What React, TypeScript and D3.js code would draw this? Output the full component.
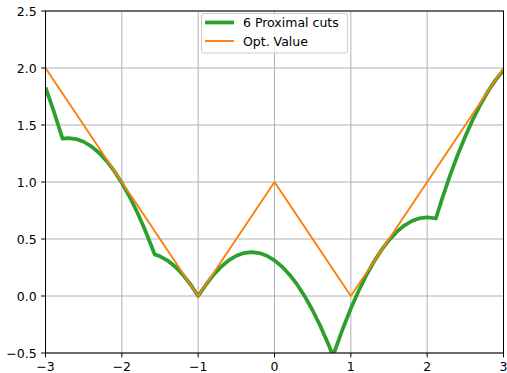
import React from "react";
import * as d3 from "d3";

// Opt. value (piecewise linear)
const optX = [-3, -1, 0, 1, 3];
const optY = [2, 0, 1, 0, 2];

// 6 Proximal cuts
const cutX = [
  -3, -2.9, -2.777, -2.7, -2.6, -2.5, -2.4, -2.3, -2.2, -2.1, -2.0, -1.9, -1.8, -1.7, -1.6, -1.571,
  -1.5, -1.4, -1.3, -1.2, -1.1, -1.0,
  -0.9, -0.8, -0.7, -0.6, -0.5, -0.4, -0.3, -0.2, -0.1, 0, 0.1, 0.2, 0.3, 0.4, 0.5, 0.6, 0.7, 0.767,
  0.8, 0.9, 1.0, 1.1, 1.2, 1.3, 1.4, 1.5, 1.6, 1.7, 1.8, 1.9, 2.0, 2.1, 2.114,
  2.2, 2.3, 2.4, 2.5, 2.6, 2.7, 2.8, 2.9, 3.0,
];
const cutY = [
  1.83, 1.638, 1.38, 1.385, 1.377, 1.353, 1.313, 1.257, 1.185, 1.097, 0.993, 0.873, 0.737, 0.585, 0.417, 0.365,
  0.348, 0.311, 0.257, 0.187, 0.101, 0.0,
  0.097, 0.185, 0.257, 0.313, 0.353, 0.377, 0.385, 0.377, 0.353, 0.313, 0.257, 0.185, 0.097, -0.007, -0.127, -0.263, -0.415, -0.523,
  -0.462, -0.278, -0.11, 0.042, 0.178, 0.298, 0.402, 0.49, 0.562, 0.618, 0.658, 0.682, 0.69, 0.682, 0.68,
  0.862, 1.058, 1.238, 1.402, 1.55, 1.682, 1.798, 1.898, 1.982,
];

const xTicks = [-3, -2, -1, 0, 1, 2, 3];
const yTicks = [-0.5, 0, 0.5, 1, 1.5, 2, 2.5];
const legendLabels = ["6 Proximal cuts", "Opt. Value"];

const W = 507;
const H = 373;
const left = 45.5;
const right = 503.5;
const top = 11;
const bottom = 353;
const FONT = "DejaVu Sans, sans-serif";
const FS = 12.5;

const fmtX = (v: number) => (v < 0 ? "\u2212" + Math.abs(v) : String(v));
const fmtY = (v: number) => (v < 0 ? "\u2212" + Math.abs(v).toFixed(1) : v.toFixed(1));

export default function App() {
  const x = d3.scaleLinear().domain([-3, 3]).range([left, right]);
  const y = d3.scaleLinear().domain([-0.5, 2.5]).range([bottom, top]);
  const line = d3
    .line<[number, number]>()
    .x((d) => x(d[0]))
    .y((d) => y(d[1]));
  const optPts = optX.map((v, i) => [v, optY[i]] as [number, number]);
  const cutPts = cutX.map((v, i) => [v, cutY[i]] as [number, number]);

  const legX = 201.5;
  const legY = 13.5;
  const legW = 146;
  const legH = 39.5;

  return (
    <svg
      width={W}
      height={H}
      style={{ position: "absolute", left: 0, top: 0, background: "#fff" }}
      fontFamily={FONT}
    >
      <defs>
        <clipPath id="plotclip">
          <rect x={left} y={top} width={right - left} height={bottom - top} />
        </clipPath>
      </defs>
      <rect x={0} y={0} width={W} height={H} fill="#fff" />
      {/* grid */}
      {xTicks.map((t) => (
        <line key={"gx" + t} x1={x(t)} x2={x(t)} y1={top} y2={bottom} stroke="#b0b0b0" strokeWidth={1} />
      ))}
      {yTicks.map((t) => (
        <line key={"gy" + t} x1={left} x2={right} y1={y(t)} y2={y(t)} stroke="#b0b0b0" strokeWidth={1} />
      ))}
      <g clipPath="url(#plotclip)">
        <path d={line(cutPts) || ""} fill="none" stroke="#2ca02c" strokeWidth={3.75} strokeLinejoin="round" />
        <path d={line(optPts) || ""} fill="none" stroke="#ff7f0e" strokeWidth={1.9} strokeLinejoin="round" />
      </g>
      {/* spines */}
      <rect x={left} y={top} width={right - left} height={bottom - top} fill="none" stroke="#000" strokeWidth={1} />
      {/* ticks */}
      {xTicks.map((t) => (
        <g key={"tx" + t}>
          <line x1={x(t)} x2={x(t)} y1={bottom} y2={bottom + 4.4} stroke="#000" strokeWidth={1} />
          <text x={x(t)} y={bottom + 8.8} dy="0.76em" textAnchor="middle" fontSize={FS} fill="#000">
            {fmtX(t)}
          </text>
        </g>
      ))}
      {yTicks.map((t) => (
        <g key={"ty" + t}>
          <line x1={left - 4.4} x2={left} y1={y(t)} y2={y(t)} stroke="#000" strokeWidth={1} />
          <text x={left - 8.8} y={y(t)} dy="0.36em" textAnchor="end" fontSize={FS} fill="#000">
            {fmtY(t)}
          </text>
        </g>
      ))}
      {/* legend */}
      <rect
        x={legX}
        y={legY}
        width={legW}
        height={legH}
        rx={2.5}
        fill="#fff"
        fillOpacity={0.8}
        stroke="#cccccc"
        strokeWidth={1}
      />
      <line x1={205} x2={234} y1={22.5} y2={22.5} stroke="#2ca02c" strokeWidth={3.75} />
      <text x={243} y={22.5} dy="0.36em" fontSize={FS} fill="#000">
        {legendLabels[0]}
      </text>
      <line x1={205} x2={234} y1={41} y2={41} stroke="#ff7f0e" strokeWidth={1.9} />
      <text x={243} y={41} dy="0.36em" fontSize={FS} fill="#000">
        {legendLabels[1]}
      </text>
    </svg>
  );
}
